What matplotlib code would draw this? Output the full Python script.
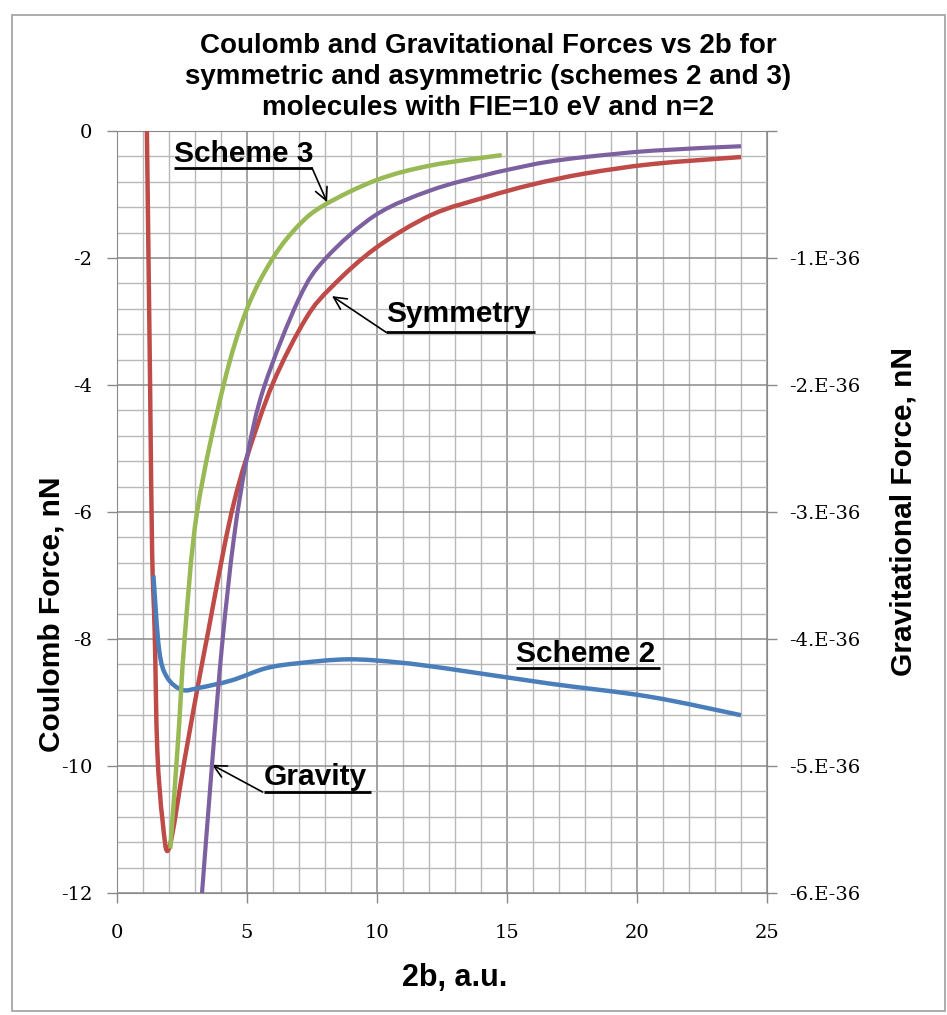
import numpy as np
import matplotlib
matplotlib.use('Agg')
import matplotlib.pyplot as plt
from matplotlib.ticker import MultipleLocator, FixedLocator, FuncFormatter
from matplotlib.patches import Rectangle, PathPatch
from matplotlib.path import Path
from matplotlib import font_manager

plt.rcParams['axes.unicode_minus'] = False

# ---------------- data ----------------
sym_x = [1.15, 1.27, 1.35, 1.45, 1.55, 1.75, 2.0, 2.6, 3.15, 3.5, 4.1, 4.5, 5.0, 6.0,
         7.27, 8.27, 9.96, 12.1, 14.2, 16.0, 18.0, 20.6, 24.0]
sym_y = [0.0, -3.9, -6.6, -7.9, -9.75, -10.85, -11.3, -9.9, -8.65, -7.9, -6.6, -5.85, -5.13, -3.97,
         -2.95, -2.45, -1.84, -1.32, -1.04, -0.84, -0.67, -0.52, -0.41]

s2_x = [1.4, 1.62, 1.92, 2.5, 3.15, 4.42, 5.73, 7.0, 8.92, 10.85, 12.77, 16.6, 20.5, 24.0]
s2_y = [-7.0, -8.17, -8.6, -8.8, -8.77, -8.65, -8.46, -8.38, -8.32, -8.37, -8.47, -8.7, -8.91, -9.2]

s3_x = [2.05, 2.35, 2.6, 3.08, 4.1, 5.0, 6.0, 7.0, 8.0, 10.0, 12.1, 14.8]
s3_y = [-11.3, -9.6, -8.0, -6.0, -4.0, -2.8, -2.0, -1.48, -1.16, -0.77, -0.54, -0.38]

grav_x = [3.27, 3.65, 4.04, 4.5, 5.0, 5.65, 7.0, 8.04, 9.96, 12.1, 14.2,
          15.5, 16.5, 18.0, 20.6, 24.0]
grav_y = [-6.0e-36, -5.0e-36, -4.05e-36, -3.2e-36, -2.57e-36, -2.02e-36, -1.32e-36,
          -1.0e-36, -0.66e-36, -0.465e-36, -0.345e-36, -0.285e-36, -0.245e-36,
          -0.205e-36, -0.155e-36, -0.12e-36]

title_lines = ["Coulomb and Gravitational Forces vs 2b for",
               "symmetric and asymmetric (schemes 2 and 3)",
               "molecules with FIE=10 eV and n=2"]
x_ticks = [0, 5, 10, 15, 20, 25]
y_ticks = [0, -2, -4, -6, -8, -10, -12]
grav_ticks = [0, -1e-36, -2e-36, -3e-36, -4e-36, -5e-36, -6e-36]

# ---------------- styling ----------------
RED = '#BE4B48'
BLUE = '#4A7EBB'
GREEN = '#98B954'
PURPLE = '#7D60A0'
MAJ = '#8a8a8a'
MIN = '#b8b8b8'

avail = {f.name for f in font_manager.fontManager.ttflist}
narrow = 'Liberation Sans Narrow' if 'Liberation Sans Narrow' in avail else 'Liberation Sans'
SANS = ['Liberation Sans', 'DejaVu Sans']
SERIF = ['DejaVu Serif']

W, H = 947, 1015
fig = plt.figure(figsize=(W / 100, H / 100), dpi=100)
fig.patches.append(Rectangle((12 / W, 1 - 1011 / H), 933 / W, 996 / H, transform=fig.transFigure,
                             fill=False, edgecolor='#a0a0a0', lw=1.2))

L, R, T, B = 117, 767, 131, 893
ax = fig.add_axes([L / W, 1 - B / H, (R - L) / W, (B - T) / H])
ax.set_xlim(0, 25)
ax.set_ylim(-12, 0)
ax.xaxis.set_major_locator(FixedLocator(x_ticks))
ax.xaxis.set_minor_locator(MultipleLocator(1))
ax.yaxis.set_major_locator(FixedLocator(y_ticks))
ax.yaxis.set_minor_locator(MultipleLocator(0.4))
ax.grid(which='minor', color=MIN, lw=1.0)
ax.grid(which='major', color=MAJ, lw=1.1)
ax.set_axisbelow(True)
ax.tick_params(which='minor', length=0)
ax.tick_params(axis='y', which='major', length=7, width=1, color=MAJ, direction='out', pad=11)
ax.tick_params(axis='x', which='major', length=7, width=1, color=MAJ, direction='out', pad=15)
for s in ax.spines.values():
    s.set_color(MAJ)
for lab in ax.get_xticklabels() + ax.get_yticklabels():
    lab.set_family(SERIF)
    lab.set_fontsize(14)


def smooth_line(axes, xs, ys, color, lw, z):
    """Excel-style smoothed line: cubic Bezier segments through the data points."""
    p = np.column_stack([xs, ys]).astype(float)
    n = len(p)
    verts = [p[0]]
    codes = [Path.MOVETO]
    for i in range(n - 1):
        p0 = p[i - 1] if i > 0 else p[i]
        p3 = p[i + 2] if i + 2 < n else p[i + 1]
        c1 = p[i] + (p[i + 1] - p0) / 6.0
        c2 = p[i + 1] - (p3 - p[i]) / 6.0
        verts += [c1, c2, p[i + 1]]
        codes += [Path.CURVE4] * 3
    patch = PathPatch(Path(verts, codes), facecolor='none', edgecolor=color, lw=lw,
                      capstyle='butt', joinstyle='round', zorder=z)
    axes.add_patch(patch)


smooth_line(ax, sym_x, sym_y, RED, 3.2, 3)
smooth_line(ax, s2_x, s2_y, BLUE, 3.2, 4)
smooth_line(ax, s3_x, s3_y, GREEN, 3.2, 5)

ax2 = ax.twinx()
ax2.set_ylim(-6e-36, 0)
ax2.yaxis.set_major_locator(FixedLocator(grav_ticks))
ax2.yaxis.set_major_formatter(FuncFormatter(
    lambda v, p: '' if abs(v) < 1e-40 else '%d.E-36' % round(v / 1e-36)))
ax2.tick_params(which='major', length=7, width=1, color=MAJ, direction='out', pad=9)
for s in ax2.spines.values():
    s.set_visible(False)
for lab in ax2.get_yticklabels():
    lab.set_family(SERIF)
    lab.set_fontsize(14)
smooth_line(ax2, grav_x, grav_y, PURPLE, 3.0, 3)

# axis titles
fig.text(52 / W, 1 - 614 / H, 'Coulomb Force, nN', rotation=90, ha='center', va='center',
         family=SANS, weight='bold', fontsize=21.5)
fig.text(903 / W, 1 - 512 / H, 'Gravitational Force, nN', rotation=90, ha='center', va='center',
         family=SANS, weight='bold', fontsize=21.5)
fig.text(455 / W, 1 - 978 / H, '2b, a.u.', ha='center', va='center',
         family=SANS, weight='bold', fontsize=22)

# title
for i, line in enumerate(title_lines):
    fig.text(488 / W, 1 - (46 + 31 * i) / H, line, ha='center', va='center',
             family=[narrow, 'DejaVu Sans'], weight='bold', fontsize=20)

# annotations
def label(text, x0, x1, ybase, yline):
    ax.text(x0, ybase, text, family=SANS, weight='bold', fontsize=21.5, ha='left', va='baseline',
            zorder=8)
    ax.plot([x0, x1], [yline, yline], color='black', lw=2, zorder=8, solid_capstyle='butt')

def arrow(tail, head):
    ax.annotate('', xy=head, xytext=tail,
                arrowprops=dict(arrowstyle='->,head_length=0.9,head_width=0.45', lw=1.2,
                                color='black', shrinkA=0, shrinkB=0), zorder=8)

label('Scheme 3', 2.19, 7.5, -0.49, -0.58)
arrow((7.5, -0.58), (8.08, -1.12))
label('Symmetry', 10.35, 16.08, -3.0, -3.17)
arrow((10.35, -3.17), (8.27, -2.6))
label('Gravity', 5.65, 9.77, -10.3, -10.41)
arrow((5.6, -10.41), (3.65, -9.98))
label('Scheme 2', 15.35, 20.9, -8.36, -8.46)

fig.savefig('out.png', dpi=100)
